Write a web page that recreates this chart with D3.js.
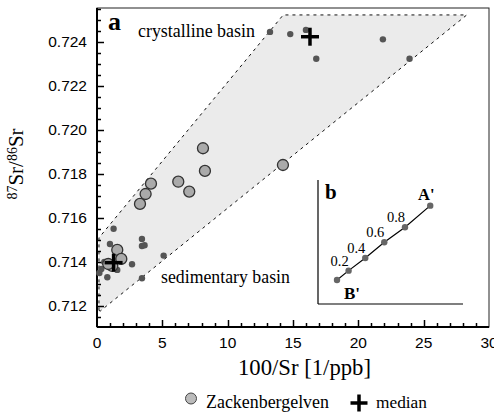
<!DOCTYPE html>
<html>
<head>
<meta charset="utf-8">
<script src="https://cdn.jsdelivr.net/npm/d3@7"></script>
<style>
  body { margin: 0; background: #fff; }
  svg { display: block; }
</style>
</head>
<body>
<div id="chart"></div>
<script>
// Zackenbergelven river samples (100/Sr, 87Sr/86Sr)
const riverX = [1.55, 1.86, 1.17, 0.86, 8.11, 8.26, 6.22, 7.06, 4.13, 3.72, 3.29, 14.23];
const riverY = [0.71455, 0.71414, 0.71382, 0.71391, 0.71917, 0.71814, 0.71765, 0.71720, 0.71756, 0.71709, 0.71664, 0.71841];

// basin samples (small dots)
const dotX = [13.24, 14.79, 15.99, 21.88, 16.78, 23.92, 1.27, 0.99, 3.44, 3.44, 3.64, 5.10, 2.68, 3.44, 0.79, 0.33, 0.18, 0.56, 1.55];
const dotY = [0.72446, 0.72436, 0.72455, 0.72412, 0.72324, 0.72324, 0.71551, 0.71482, 0.71505, 0.71473, 0.71476, 0.71429, 0.71390, 0.71326, 0.71331, 0.71368, 0.71350, 0.71400, 0.71364];

// medians
const medianX = [16.3, 1.27];
const medianY = [0.72424, 0.71397];

// mixing envelope
const envX = [0.15, 0.15, 14.25, 28.3, 0.25];
const envY = [0.7118, 0.7151, 0.72523, 0.72523, 0.71177];

// inset b: mixing line B' -> A'
const mixFrac = [0, 0.2, 0.4, 0.6, 0.8, 1.0];
const mixX = [0.131, 0.211, 0.326, 0.457, 0.600, 0.774];
const mixY = [0.194, 0.269, 0.371, 0.498, 0.619, 0.793];

const width = 494, height = 417;
const plotL = 97, plotR = 489, plotT = 8, plotB = 327;

const svg = d3.select("#chart").append("svg")
    .attr("width", width)
    .attr("height", height);

const x = d3.scaleLinear().domain([0, 30]).range([plotL, plotR]);
const y = d3.scaleLinear().domain([0.712, 0.724]).range([306, 42]);

const serif = "'Liberation Serif', 'Times New Roman', serif";
const sans = "'Liberation Sans', Arial, sans-serif";

// scale font so a text spans the wanted width
function fit(sel, w) {
    const fs = +sel.attr("font-size");
    const len = sel.node().getComputedTextLength();
    if (len > 0) sel.attr("font-size", fs * w / len);
    return sel;
}

// frame
svg.append("rect")
    .attr("x", plotL).attr("y", plotT)
    .attr("width", plotR - plotL).attr("height", plotB - plotT)
    .attr("fill", "none").attr("stroke", "#222").attr("stroke-width", 1);

// envelope
svg.append("path")
    .datum(envX.map((v, i) => [v, envY[i]]))
    .attr("d", d3.line().x(d => x(d[0])).y(d => y(d[1])).curve(d3.curveLinearClosed))
    .attr("fill", "#ebebeb")
    .attr("stroke", "#111")
    .attr("stroke-width", 1)
    .attr("stroke-dasharray", "3,4");

// axes lines
svg.append("line").attr("x1", plotL).attr("x2", plotL).attr("y1", plotT).attr("y2", plotB)
    .attr("stroke", "#000").attr("stroke-width", 2);
svg.append("line").attr("x1", plotL).attr("x2", plotR).attr("y1", plotB).attr("y2", plotB)
    .attr("stroke", "#000").attr("stroke-width", 2);

// ticks (inside)
const yMinor = d3.range(0.7115, 0.72555, 0.0005);
svg.append("g").selectAll("line").data(yMinor).join("line")
    .attr("x1", plotL).attr("y1", d => Math.round(y(d)) + 0.5)
    .attr("x2", d => plotL + (Math.abs(d * 500 - Math.round(d * 500)) < 1e-6 ? 7 : 4))
    .attr("y2", d => Math.round(y(d)) + 0.5)
    .attr("stroke", "#000").attr("stroke-width", 1.5);

const xMinor = d3.range(1, 30, 1);
svg.append("g").selectAll("line").data(xMinor).join("line")
    .attr("x1", d => Math.round(x(d)) + 0.5).attr("y1", plotB)
    .attr("x2", d => Math.round(x(d)) + 0.5)
    .attr("y2", d => plotB - (d % 5 === 0 ? 7 : 4))
    .attr("stroke", "#000").attr("stroke-width", 1.5);

// tick labels
const yTicks = [0.712, 0.714, 0.716, 0.718, 0.720, 0.722, 0.724];
svg.append("g").selectAll("text").data(yTicks).join("text")
    .attr("x", 87).attr("y", d => y(d))
    .attr("dy", "0.35em")
    .attr("text-anchor", "end")
    .attr("font-family", sans).attr("font-size", 15.5)
    .text(d => d3.format(".3f")(d));

const xTicks = [0, 5, 10, 15, 20, 25, 30];
svg.append("g").selectAll("text").data(xTicks).join("text")
    .attr("x", d => x(d)).attr("y", 348)
    .attr("text-anchor", "middle")
    .attr("font-family", sans).attr("font-size", 15.5)
    .text(d => d);

// axis titles
fit(svg.append("text")
    .attr("x", 304.5).attr("y", 375)
    .attr("text-anchor", "middle")
    .attr("font-family", serif).attr("font-size", 20)
    .text("100/Sr [1/ppb]"), 133);

const yt = svg.append("text")
    .attr("transform", "translate(23,164) rotate(-90)")
    .attr("text-anchor", "middle")
    .attr("font-family", serif).attr("font-size", 21);
yt.append("tspan").attr("font-size", 14).attr("dy", -6).text("87");
yt.append("tspan").attr("dy", 6).text("Sr/");
yt.append("tspan").attr("font-size", 14).attr("dy", -6).text("86");
yt.append("tspan").attr("dy", 6).text("Sr");

// annotations
svg.append("text").attr("x", 108).attr("y", 30)
    .attr("font-family", serif).attr("font-size", 26).attr("font-weight", "bold")
    .text("a");
fit(svg.append("text").attr("x", 138).attr("y", 37)
    .attr("font-family", serif).attr("font-size", 15)
    .text("crystalline basin"), 117);
fit(svg.append("text").attr("x", 161).attr("y", 283)
    .attr("font-family", serif).attr("font-size", 15)
    .text("sedimentary basin"), 129);

// small dots
svg.append("g").selectAll("circle").data(dotX.map((v, i) => [v, dotY[i]])).join("circle")
    .attr("cx", d => x(d[0])).attr("cy", d => y(d[1]))
    .attr("r", 3.2)
    .attr("fill", "#555");

// river samples
svg.append("g").selectAll("circle").data(riverX.map((v, i) => [v, riverY[i]])).join("circle")
    .attr("cx", d => x(d[0])).attr("cy", d => y(d[1]))
    .attr("r", 5.5)
    .attr("fill", "#aaa")
    .attr("stroke", "#333").attr("stroke-width", 1.3);

// median crosses
function cross(g, cx, cy, s) {
    g.append("line").attr("x1", cx - s).attr("x2", cx + s).attr("y1", cy).attr("y2", cy)
        .attr("stroke", "#000").attr("stroke-width", 3.5);
    g.append("line").attr("x1", cx).attr("x2", cx).attr("y1", cy - s).attr("y2", cy + s)
        .attr("stroke", "#000").attr("stroke-width", 3.5);
}
const mg = svg.append("g");
medianX.forEach((v, i) => cross(mg, x(v), y(medianY[i]), 9));

// inset b
const ix = d3.scaleLinear().domain([0, 1]).range([318, 463]);
const iy = d3.scaleLinear().domain([0, 1]).range([304, 180]);
const inset = svg.append("g");
inset.append("line").attr("x1", ix(0)).attr("x2", ix(0)).attr("y1", iy(1)).attr("y2", iy(0))
    .attr("stroke", "#000").attr("stroke-width", 1.2);
inset.append("line").attr("x1", ix(0)).attr("x2", ix(1)).attr("y1", iy(0)).attr("y2", iy(0))
    .attr("stroke", "#000").attr("stroke-width", 1.2);
inset.append("path")
    .datum(mixX.map((v, i) => [v, mixY[i]]))
    .attr("d", d3.line().x(d => ix(d[0])).y(d => iy(d[1])))
    .attr("fill", "none").attr("stroke", "#000").attr("stroke-width", 1.2);
inset.selectAll("circle").data(mixX.map((v, i) => [v, mixY[i]])).join("circle")
    .attr("cx", d => ix(d[0])).attr("cy", d => iy(d[1]))
    .attr("r", 3.2).attr("fill", "#666");
inset.selectAll("text.frac").data(mixFrac.slice(1, 5)).join("text")
    .attr("class", "frac")
    .attr("x", (d, i) => ix(mixX[i + 1]) - 9)
    .attr("y", (d, i) => iy(mixY[i + 1]) - 5)
    .attr("text-anchor", "middle")
    .attr("font-family", serif).attr("font-size", 14.5)
    .text(d => d3.format(".1f")(d));
inset.append("text").attr("x", 325).attr("y", 199)
    .attr("font-family", serif).attr("font-size", 21).attr("font-weight", "bold").text("b");
inset.append("text").attr("x", 418).attr("y", 200)
    .attr("font-family", serif).attr("font-size", 16.5).attr("font-weight", "bold").text("A'");
inset.append("text").attr("x", 344).attr("y", 299)
    .attr("font-family", serif).attr("font-size", 17).attr("font-weight", "bold").text("B'");

// legend
svg.append("circle").attr("cx", 191).attr("cy", 398.5).attr("r", 5.5)
    .attr("fill", "#bbb").attr("stroke", "#444").attr("stroke-width", 1);
fit(svg.append("text").attr("x", 206).attr("y", 408)
    .attr("font-family", serif).attr("font-size", 17)
    .text("Zackenbergelven"), 123);
cross(svg.append("g"), 359, 403, 8.5);
fit(svg.append("text").attr("x", 376).attr("y", 408)
    .attr("font-family", serif).attr("font-size", 17)
    .text("median"), 51);
</script>
</body>
</html>
